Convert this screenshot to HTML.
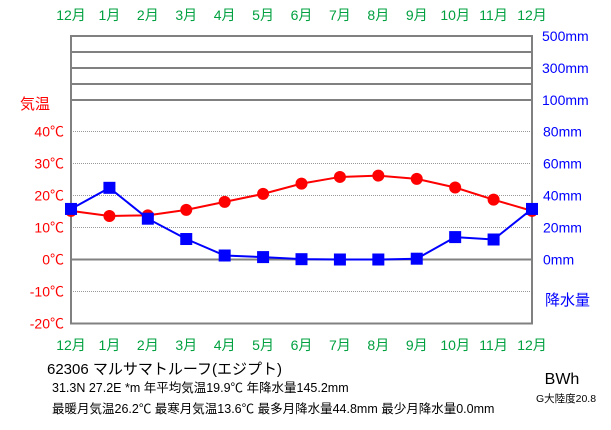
<!DOCTYPE html>
<html><head><meta charset="utf-8"><style>
body{margin:0;background:#fff;}
svg text{font-family:"Liberation Sans","Noto Sans CJK JP",sans-serif;}
</style></head><body>
<svg id="c" width="611" height="425" xmlns="http://www.w3.org/2000/svg">
<g id="grid"></g>
<g id="labels"></g>
<g id="series"></g>
<text x="47" y="374" font-size="15">62306  マルサマトルーフ(エジプト)</text>
<text x="52" y="392" font-size="12.5">31.3N  27.2E  *m  年平均気温19.9℃  年降水量145.2mm</text>
<text x="52" y="413" font-size="12.5">最暖月気温26.2℃ 最寒月気温13.6℃ 最多月降水量44.8mm 最少月降水量0.0mm</text>
<text x="562" y="384" font-size="16" text-anchor="middle">BWh</text>
<text x="566" y="402" font-size="10.5" text-anchor="middle">G大陸度20.8</text>
<text x="20" y="109" font-size="15" fill="#ff0000">気温</text>
<text x="545" y="305" font-size="15" fill="#0000ff">降水量</text>
</svg>
<script>
const months=["12月","1月","2月","3月","4月","5月","6月","7月","8月","9月","10月","11月","12月"];
const temps=[15.2,13.6,13.8,15.5,18.0,20.5,23.7,25.8,26.2,25.2,22.5,18.7,15.2];
const precip=[31.6,44.8,25.5,12.8,2.5,1.5,0.2,0,0,0.5,14.0,12.5,31.6];
const tempTicks=[40,30,20,10,0,-10,-20];
const precipTicks=[80,60,40,20,0];
const topPrecipTicks=["500mm","300mm","100mm"];
const NS="http://www.w3.org/2000/svg";
const X0=71,X1=532,Y0=259.5;
const x=i=>X0+(X1-X0)*i/12;
const yT=t=>Y0-t*3.2;
const yP=p=>Y0-p*1.6;
function mk(tag,attrs,parent){const e=document.createElementNS(NS,tag);for(const k in attrs)e.setAttribute(k,attrs[k]);parent.appendChild(e);return e;}
const g=document.getElementById('grid'),L=document.getElementById('labels'),S=document.getElementById('series');
[36,52,68,84,100].forEach((yy,i)=>{const l=mk('line',{x1:X0,x2:X1,y1:yy,y2:yy,stroke:'#808080','stroke-width':2},g);

});
tempTicks.forEach(t=>{const yy=yT(t);
if(t!==-20&&t!==0){const l=mk('line',{x1:X0,x2:X1,y1:yy,y2:yy,stroke:'#999','stroke-width':1,'stroke-dasharray':'1,1'},g);

}
const tx=mk('text',{x:64,y:yy+5,'font-size':14,fill:'#ff0000','text-anchor':'end'},L);tx.textContent=t+'℃';

});
const z=mk('line',{x1:X0,x2:X1,y1:Y0,y2:Y0,stroke:'#808080','stroke-width':2},g);


const fr=mk('path',{d:`M${X0},35 V${yT(-20)} H${X1} V35`,fill:'none',stroke:'#808080','stroke-width':2},g);


precipTicks.forEach(p=>{const tx=mk('text',{x:543,y:yP(p)+5,'font-size':14,fill:'#0000ff'},L);tx.textContent=p+'mm';

});
[36,68,100].forEach((yy,i)=>{const tx=mk('text',{x:542,y:yy+5,'font-size':14,fill:'#0000ff'},L);tx.textContent=topPrecipTicks[i];

});
months.forEach((m,i)=>{[20,350].forEach(yy=>{const tx=mk('text',{x:x(i),y:yy,'font-size':14,fill:'#00a040','text-anchor':'middle'},L);tx.textContent=m;

});});
const tl=mk('polyline',{points:temps.map((t,i)=>x(i)+','+yT(t)).join(' '),fill:'none',stroke:'#ff0000','stroke-width':2},S);


const pl=mk('polyline',{points:precip.map((p,i)=>x(i)+','+yP(p)).join(' '),fill:'none',stroke:'#0000ff','stroke-width':2},S);


temps.forEach((t,i)=>{const c=mk('circle',{cx:x(i),cy:yT(t),r:6,fill:'#ff0000'},S);

});
precip.forEach((p,i)=>{const r=mk('rect',{x:x(i)-6,y:yP(p)-6,width:12,height:12,fill:'#0000ff'},S);

});
</script>
</body></html>
